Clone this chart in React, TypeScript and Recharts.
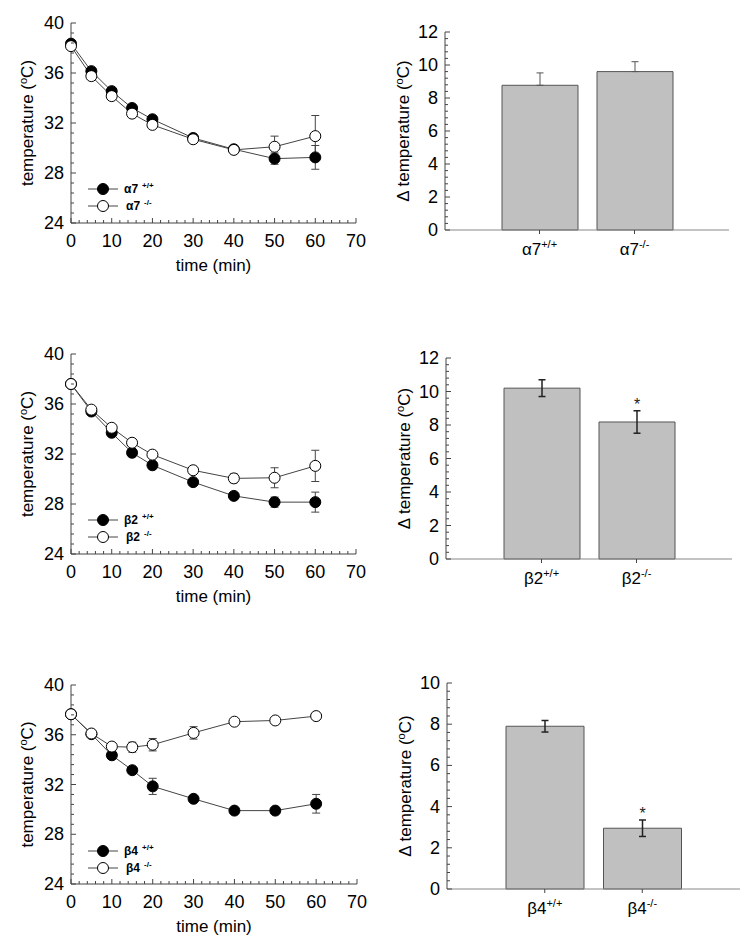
import React from "react";
import {
  LineChart,
  Line,
  BarChart,
  Bar,
  XAxis,
  YAxis,
  ErrorBar,
  Legend,
  LabelList,
} from "recharts";

const FONT = "'Liberation Sans', Arial, Helvetica, sans-serif";
const INK = "#444";

// sampling times (min)
const times = [0, 5, 10, 15, 20, 30, 40, 50, 60];
const genotypes = ["+/+", "-/-"];

// alpha7 body temperature
const a7Wt = [38.35, 36.15, 34.55, 33.2, 32.3, 30.8, 29.9, 29.15, 29.25];
const a7WtErr = [0.1, 0.1, 0.1, 0.1, 0.1, 0.1, 0.15, 0.45, 0.95];
const a7Ko = [38.15, 35.75, 34.15, 32.75, 31.85, 30.7, 29.85, 30.1, 30.95];
const a7KoErr = [0.1, 0.1, 0.1, 0.1, 0.1, 0.1, 0.1, 0.85, 1.65];

// beta2 body temperature
const b2Wt = [37.6, 35.4, 33.7, 32.1, 31.1, 29.75, 28.65, 28.15, 28.15];
const b2WtErr = [0.1, 0.1, 0.15, 0.2, 0.2, 0.15, 0.15, 0.4, 0.8];
const b2Ko = [37.6, 35.55, 34.1, 32.9, 31.95, 30.7, 30.05, 30.1, 31.05];
const b2KoErr = [0.1, 0.1, 0.1, 0.15, 0.15, 0.15, 0.35, 0.8, 1.25];

// beta4 body temperature
const b4Wt = [37.65, 36.05, 34.35, 33.15, 31.85, 30.85, 29.9, 29.9, 30.45];
const b4WtErr = [0.1, 0.1, 0.15, 0.15, 0.65, 0.15, 0.15, 0.15, 0.75];
const b4Ko = [37.65, 36.1, 35.05, 35.0, 35.2, 36.15, 37.05, 37.15, 37.5];
const b4KoErr = [0.1, 0.1, 0.2, 0.4, 0.5, 0.5, 0.15, 0.15, 0.15];

// delta temperature bars
const a7Cats = ["α7+/+", "α7-/-"];
const a7Delta = [8.77, 9.6];
const a7DeltaErr = [0.75, 0.6];
const b2Cats = ["β2+/+", "β2-/-"];
const b2Delta = [10.2, 8.18];
const b2DeltaErr = [0.5, 0.67];
const b2Star = [false, true];
const b4Cats = ["β4+/+", "β4-/-"];
const b4Delta = [7.9, 2.95];
const b4DeltaErr = [0.28, 0.4];
const b4Star = [false, true];

const lineXTicks = [0, 10, 20, 30, 40, 50, 60, 70];
const lineYTicks = [24, 28, 32, 36, 40];

type Plot = { left: number; top: number; width: number; height: number };

const MARGIN = { top: 20, right: 20, bottom: 10, left: 10 };

const isMult = (v: number, step: number) =>
  Math.abs(v / step - Math.round(v / step)) < 1e-6;

// majors plus minor subdivisions for the inside tick marks
function withMinor(majors: number[], parts: number) {
  const out: number[] = [];
  for (let i = 0; i < majors.length - 1; i++) {
    const d = (majors[i + 1] - majors[i]) / parts;
    for (let k = 0; k < parts; k++) out.push(+(majors[i] + k * d).toFixed(4));
  }
  out.push(majors[majors.length - 1]);
  return out;
}

const makeTick =
  (side: "bottom" | "top" | "left" | "right", step: number, labels: boolean) =>
  (props: any) => {
    const { x, y, payload } = props;
    const major = isMult(payload.value, step);
    const len = major ? 5 : 3;
    let line;
    if (side === "bottom") line = <line x1={x} x2={x} y1={y} y2={y - len} stroke={INK} />;
    else if (side === "top") line = <line x1={x} x2={x} y1={y} y2={y + len} stroke={INK} />;
    else if (side === "left") line = <line x1={x} x2={x + len} y1={y} y2={y} stroke={INK} />;
    else line = <line x1={x} x2={x - len} y1={y} y2={y} stroke={INK} />;
    return (
      <g>
        {line}
        {labels && major && side === "bottom" && (
          <text x={x} y={y + 24} textAnchor="middle" fontSize={18} fontFamily={FONT} fill="#000">
            {payload.value}
          </text>
        )}
        {labels && major && side === "left" && (
          <text x={x - 7} y={y + 6} textAnchor="end" fontSize={18} fontFamily={FONT} fill="#000">
            {Math.round(payload.value)}
          </text>
        )}
      </g>
    );
  };

const YTitle =
  (delta: boolean, shift: number) =>
  (props: any) => {
    const vb = props.viewBox || { x: 10, y: 20, width: 60, height: 200 };
    const cx = vb.x + vb.width - shift;
    const cy = vb.y + vb.height / 2;
    return (
      <text
        x={cx}
        y={cy}
        transform={`rotate(-90 ${cx} ${cy})`}
        textAnchor="middle"
        fontSize={17}
        fontFamily={FONT}
        fill="#000"
      >
        {delta ? "Δ temperature (" : "temperature ("}
        <tspan dy={-6} fontSize={11}>o</tspan>
        <tspan dy={6}>C)</tspan>
      </text>
    );
  };

const XTitle = (props: any) => {
  const vb = props.viewBox || { x: 70, y: 220, width: 285, height: 60 };
  return (
    <text x={vb.x + vb.width / 2} y={vb.y + 48} textAnchor="middle" fontSize={17} fontFamily={FONT} fill="#000">
      time (min)
    </text>
  );
};

function LineLegend({ gene, payload }: any) {
  const fills = ["#000", "#fff"];
  const items = (payload || []).filter((p: any) => p.type !== "none");
  return (
    <svg width={120} height={40} style={{ display: "block", overflow: "visible" }}>
      {items.map((p: any, i: number) => {
        const cy = 8 + i * 17;
        return (
          <g key={i}>
            <line x1={0} x2={30} y1={cy} y2={cy} stroke={INK} />
            <circle cx={15} cy={cy} r={5.5} fill={fills[i]} stroke="#000" />
            <text x={36 + i * 2} y={cy + 4} fontSize={12} fontWeight="bold" fontFamily={FONT} fill="#000">
              {gene}
              <tspan dx={4} dy={-5} fontSize={8}>
                {p.value}
              </tspan>
            </text>
          </g>
        );
      })}
    </svg>
  );
}

function TimePanel({
  plot,
  gene,
  wt,
  wtErr,
  ko,
  koErr,
}: {
  plot: Plot;
  gene: string;
  wt: number[];
  wtErr: number[];
  ko: number[];
  koErr: number[];
}) {
  const data = times.map((t, i) => ({ t, wt: wt[i], wtErr: wtErr[i], ko: ko[i], koErr: koErr[i] }));
  const xt = withMinor(lineXTicks, 5);
  const yt = withMinor(lineYTicks, 5);
  return (
    <div style={{ position: "absolute", left: plot.left - 70, top: plot.top - 20 }}>
      <LineChart width={plot.width + 90} height={plot.height + 90} data={data} margin={MARGIN}>
        <XAxis
          dataKey="t"
          type="number"
          domain={[0, 70]}
          ticks={xt}
          interval={0}
          height={60}
          tickSize={0}
          tickMargin={0}
          tickLine={false}
          tick={makeTick("bottom", 10, true)}
          axisLine={{ stroke: INK }}
          label={{ content: XTitle }}
        />
        <XAxis
          xAxisId="top"
          orientation="top"
          type="number"
          domain={[0, 70]}
          allowDataOverflow
          ticks={xt}
          interval={0}
          height={0}
          tickSize={0}
          tickMargin={0}
          tickLine={false}
          tick={makeTick("top", 10, false)}
          axisLine={{ stroke: INK }}
        />
        <YAxis
          type="number"
          domain={[24, 40]}
          ticks={yt}
          interval={0}
          width={60}
          tickSize={0}
          tickMargin={0}
          tickLine={false}
          tick={makeTick("left", 4, true)}
          axisLine={{ stroke: INK }}
          label={{ content: YTitle(false, 38) }}
        />
        <YAxis
          yAxisId="right"
          orientation="right"
          type="number"
          domain={[24, 40]}
          allowDataOverflow
          ticks={yt}
          interval={0}
          width={0}
          tickSize={0}
          tickMargin={0}
          tickLine={false}
          tick={makeTick("right", 4, false)}
          axisLine={{ stroke: INK }}
        />
        <Line
          dataKey="wt"
          name={genotypes[0]}
          stroke={INK}
          strokeWidth={1}
          dot={{ r: 5.5, fill: "#000", stroke: "#000", strokeWidth: 1 }}
          activeDot={false}
          isAnimationActive={false}
        >
          <ErrorBar dataKey="wtErr" width={4} stroke={INK} strokeWidth={1} direction="y" />
        </Line>
        <Line
          dataKey="ko"
          name={genotypes[1]}
          stroke={INK}
          strokeWidth={1}
          dot={{ r: 5.5, fill: "#fff", stroke: "#000", strokeWidth: 1 }}
          activeDot={false}
          isAnimationActive={false}
        >
          <ErrorBar dataKey="koErr" width={4} stroke={INK} strokeWidth={1} direction="y" />
        </Line>
        <Legend
          layout="vertical"
          align="center"
          verticalAlign="middle"
          wrapperStyle={{ left: 87, top: 166 + 12, width: 120, height: 40 }}
          content={(p: any) => <LineLegend gene={gene} payload={p.payload} />}
        />
      </LineChart>
    </div>
  );
}

function DeltaPanel({
  plot,
  cats,
  values,
  errs,
  stars,
  yTicks,
  upOnly,
  barSize,
}: {
  plot: Plot;
  cats: string[];
  values: number[];
  errs: number[];
  stars?: boolean[];
  yTicks: number[];
  upOnly?: boolean;
  barSize: number;
}) {
  const data = cats.map((c, i) => ({
    name: c,
    v: values[i],
    e: upOnly ? [0, errs[i]] : errs[i],
    star: stars ? stars[i] : false,
  }));
  const yt = withMinor(yTicks, 5);
  const top = yTicks[yTicks.length - 1];
  const pad = Math.round(plot.width / 6);

  const CatTick = (props: any) => {
    const { x, y, payload } = props;
    const s = String(payload.value);
    return (
      <g>
        <line x1={x} x2={x} y1={y} y2={y + 4} stroke={INK} />
        <text x={x} y={y + 25} textAnchor="middle" fontSize={17} fontFamily={FONT} fill="#000">
          {s.slice(0, 2)}
          <tspan dy={-7} fontSize={11}>
            {s.slice(2)}
          </tspan>
        </text>
      </g>
    );
  };

  const Star = (props: any) => {
    const { x, y, width, height, value, index } = props;
    if (!value) return null;
    const errPx = (errs[index] * height) / values[index];
    return (
      <text
        x={x + width / 2}
        y={y - errPx - 1}
        textAnchor="middle"
        fontSize={16}
        fontFamily={FONT}
        fill="#222"
      >
        *
      </text>
    );
  };

  return (
    <div style={{ position: "absolute", left: plot.left - 70, top: plot.top - 20 }}>
      <BarChart width={plot.width + 90} height={plot.height + 90} data={data} margin={MARGIN} barSize={barSize}>
        <XAxis
          dataKey="name"
          height={60}
          padding={{ left: pad, right: pad }}
          interval={0}
          tickSize={0}
          tickMargin={0}
          tickLine={false}
          tick={CatTick}
          axisLine={{ stroke: "#888" }}
        />
        <XAxis
          xAxisId="top"
          orientation="top"
          type="number"
          domain={[0, 1]}
          allowDataOverflow
          ticks={[]}
          height={0}
          tick={false}
          tickLine={false}
          axisLine={{ stroke: INK }}
        />
        <YAxis
          type="number"
          domain={[0, top]}
          ticks={yt}
          interval={0}
          width={60}
          tickSize={0}
          tickMargin={0}
          tickLine={false}
          tick={makeTick("left", 2, true)}
          axisLine={{ stroke: INK }}
          label={{ content: YTitle(true, 36) }}
        />
        <YAxis
          yAxisId="right"
          orientation="right"
          type="number"
          domain={[0, top]}
          allowDataOverflow
          ticks={yt}
          interval={0}
          width={0}
          tickSize={0}
          tickMargin={0}
          tickLine={false}
          tick={makeTick("right", 2, false)}
          axisLine={{ stroke: INK }}
        />
        <Bar dataKey="v" fill="#c0c0c0" stroke="#555" strokeWidth={1} isAnimationActive={false}>
          <ErrorBar
            dataKey="e"
            width={3.5}
            stroke={upOnly ? "#555" : "#222"}
            strokeWidth={upOnly ? 1 : 1.5}
            direction="y"
          />
          <LabelList dataKey="star" content={Star} />
        </Bar>
      </BarChart>
    </div>
  );
}

export default function App() {
  return (
    <div
      style={{
        position: "absolute",
        left: 0,
        top: 0,
        width: 753,
        height: 948,
        background: "#fff",
        fontFamily: FONT,
      }}
    >
      <TimePanel
        plot={{ left: 71, top: 23, width: 285, height: 200 }}
        gene="α7"
        wt={a7Wt}
        wtErr={a7WtErr}
        ko={a7Ko}
        koErr={a7KoErr}
      />
      <DeltaPanel
        plot={{ left: 445, top: 32, width: 284, height: 198 }}
        cats={a7Cats}
        values={a7Delta}
        errs={a7DeltaErr}
        yTicks={[0, 2, 4, 6, 8, 10, 12]}
        upOnly
        barSize={76}
      />
      <TimePanel
        plot={{ left: 71, top: 354, width: 285, height: 200 }}
        gene="β2"
        wt={b2Wt}
        wtErr={b2WtErr}
        ko={b2Ko}
        koErr={b2KoErr}
      />
      <DeltaPanel
        plot={{ left: 446, top: 358, width: 286, height: 201 }}
        cats={b2Cats}
        values={b2Delta}
        errs={b2DeltaErr}
        stars={b2Star}
        yTicks={[0, 2, 4, 6, 8, 10, 12]}
        barSize={76}
      />
      <TimePanel
        plot={{ left: 71, top: 685, width: 286, height: 199 }}
        gene="β4"
        wt={b4Wt}
        wtErr={b4WtErr}
        ko={b4Ko}
        koErr={b4KoErr}
      />
      <DeltaPanel
        plot={{ left: 447, top: 683, width: 293, height: 206 }}
        cats={b4Cats}
        values={b4Delta}
        errs={b4DeltaErr}
        stars={b4Star}
        yTicks={[0, 2, 4, 6, 8, 10]}
        barSize={78}
      />
    </div>
  );
}
